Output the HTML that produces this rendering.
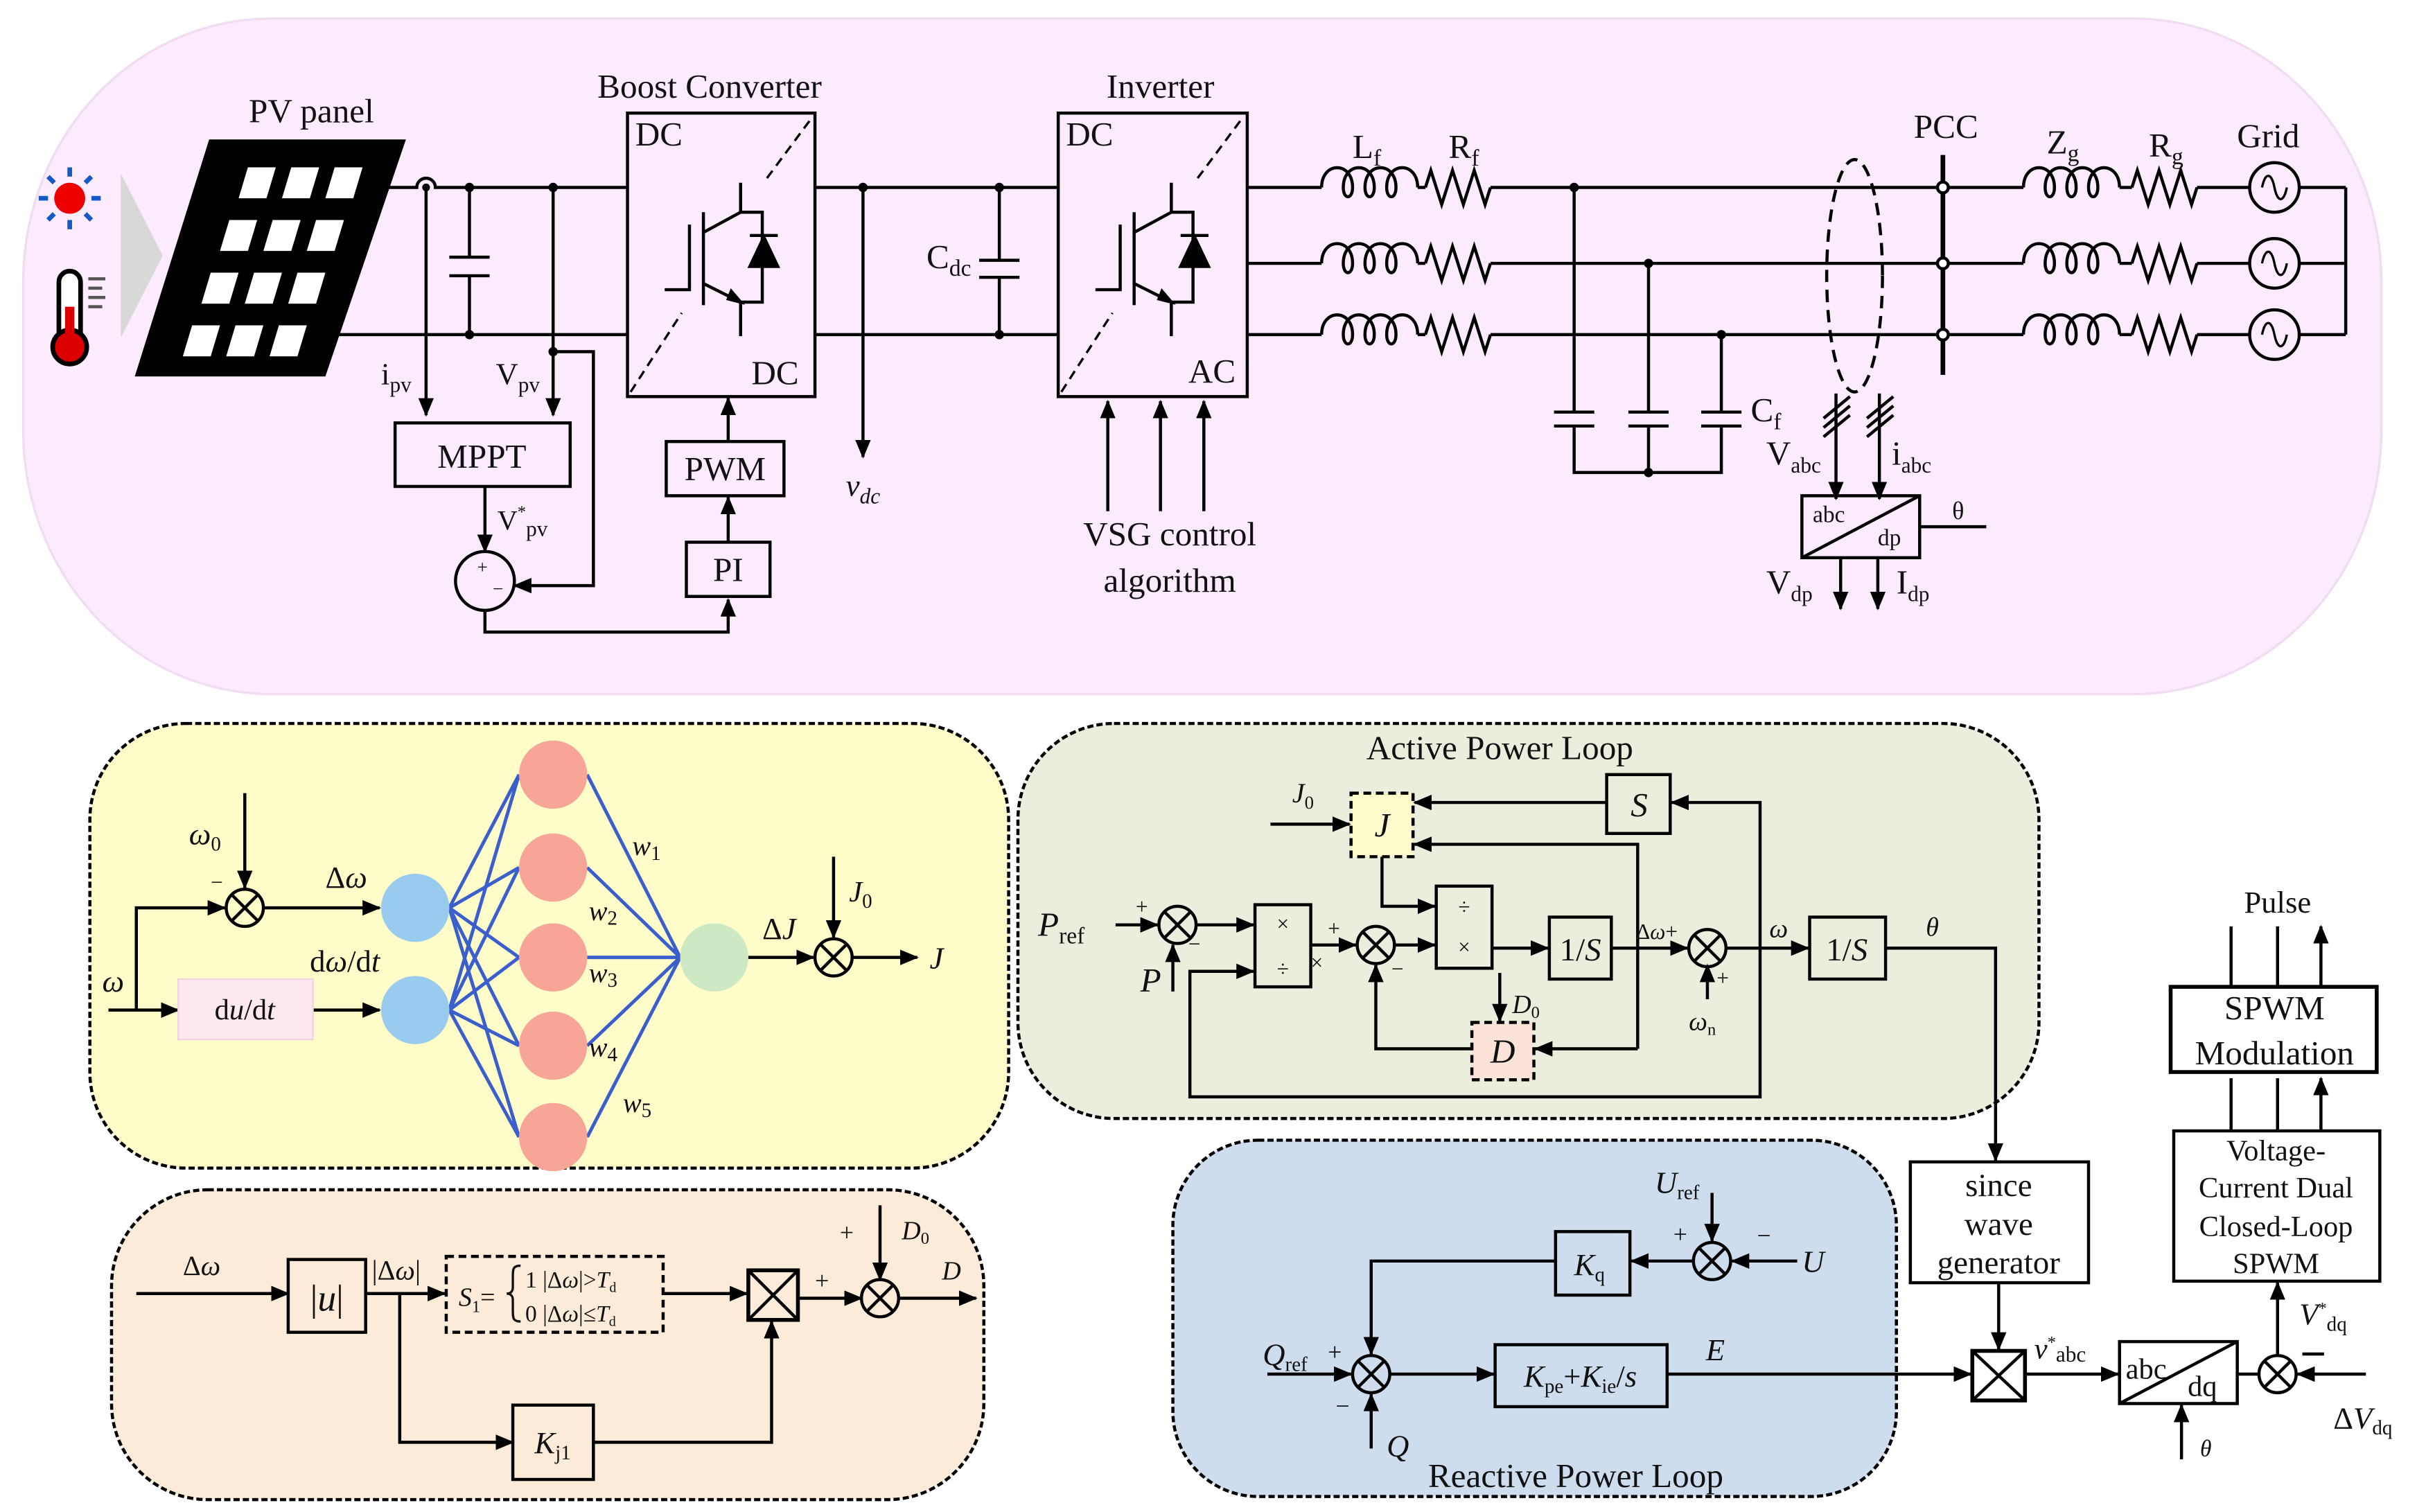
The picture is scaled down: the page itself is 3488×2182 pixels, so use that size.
<!DOCTYPE html>
<html><head><meta charset="utf-8"><style>
html,body{margin:0;padding:0;background:#fff}
svg{display:block}
text{font-family:"Liberation Serif",serif;fill:#111}
</style></head><body>
<svg width="3488" height="2182" viewBox="0 0 1560 976" preserveAspectRatio="none" xmlns="http://www.w3.org/2000/svg">
<defs>
<marker id="a" markerWidth="12" markerHeight="10" refX="11" refY="5" orient="auto" markerUnits="userSpaceOnUse"><path d="M0,0 L12,5 L0,10 Z" fill="#000"/></marker>
<g id="igbt" fill="none" stroke="#000" stroke-width="2">
<path d="M429,187 H445 V145"/><path d="M454,137 V197"/><path d="M454,150 L478,137 V118"/><path d="M454,183 L478,195 V217"/>
<path d="M478,137 H492 V195 H478"/><path d="M484,152 H502"/>
<path d="M484,172 L502,172 L493,153 Z" fill="#000"/><path d="M470,193 L478,195 L472,188 Z" fill="#000"/>
</g>
<path id="ind" d="M0,0 c0,-17 20,-17 20,0 c0,8 -6,8 -6,0 c0,-17 20,-17 20,0 c0,8 -6,8 -6,0 c0,-17 20,-17 20,0 c0,8 -6,8 -6,0 c0,-17 20,-17 20,0" fill="none" stroke="#000" stroke-width="2"/>
<path id="res" d="M0,0 l3.5,-11 l7,22 l7,-22 l7,22 l7,-22 l7,22 l3.5,-11" fill="none" stroke="#000" stroke-width="2"/>
<g id="sum"><circle r="12" fill="none" stroke="#000" stroke-width="2"/><path d="M-8.5,-8.5 L8.5,8.5 M-8.5,8.5 L8.5,-8.5" stroke="#000" stroke-width="2"/></g>
<g id="src"><circle r="16" fill="none" stroke="#000" stroke-width="2"/><path d="M-8,0 c2,-10 6,-10 8,0 c2,10 6,10 8,0" fill="none" stroke="#000" stroke-width="1.5"/></g>
</defs>

<!-- TOP PANEL -->
<rect x="15" y="12" width="1522" height="436" rx="160" ry="170" fill="#fcebfc" stroke="#f1dcf1" stroke-width="1.5"/>
<circle cx="45" cy="128" r="10" fill="#e00"/>
<g stroke="#1558c8" stroke-width="3"><path d="M45,108V114M45,142V148M25,128H31M59,128H65M31,114L35,118M59,114L55,118M31,142L35,138M59,142L55,138"/></g>
<rect x="38" y="175" width="14" height="50" rx="7" fill="#fff" stroke="#000" stroke-width="3"/>
<circle cx="45" cy="224" r="11" fill="#d00" stroke="#000" stroke-width="3"/>
<rect x="42" y="198" width="6" height="26" fill="#d00"/>
<g stroke="#555" stroke-width="2"><path d="M57,180H68M57,186H66M57,192H68M57,198H66"/></g>
<polygon points="78,112 78,218 105,165" fill="#d8d8d8"/>
<polygon points="135,90 262,90 210,243 87,243" fill="#000"/>
<g fill="#fff">
<polygon points="160,108 178,108 172,128 154,128"/><polygon points="188,108 206,108 200,128 182,128"/><polygon points="216,108 234,108 228,128 210,128"/>
<polygon points="148,142 166,142 160,162 142,162"/><polygon points="176,142 194,142 188,162 170,162"/><polygon points="204,142 222,142 216,162 198,162"/>
<polygon points="136,176 154,176 148,196 130,196"/><polygon points="164,176 182,176 176,196 158,196"/><polygon points="192,176 210,176 204,196 186,196"/>
<polygon points="124,210 142,210 136,230 118,230"/><polygon points="152,210 170,210 164,230 146,230"/><polygon points="180,210 198,210 192,230 174,230"/>
</g>
<text x="201" y="79" font-size="22" text-anchor="middle">PV panel</text>
<g stroke="#000" stroke-width="2" fill="none">
<path d="M250,121 H269 a6,6 0 0 1 12,0 H405"/>
<path d="M214,216 H405"/>
<path d="M526,121 H683 M526,216 H683"/>
<path d="M303,121 V166 M303,178 V216 M290,166 H316 M290,178 H316"/>
<path d="M645,121 V168 M645,179 V216 M632,168 H658 M632,179 H658"/>
<path d="M275,121 V268" marker-end="url(#a)"/>
<path d="M357,121 V268" marker-end="url(#a)"/>
<path d="M357,227 H383 V378 H332" marker-end="url(#a)"/>
<path d="M313,314 V356" marker-end="url(#a)"/>
<path d="M313,394 V408 H470 V387" marker-end="url(#a)"/>
<path d="M470,350 V321" marker-end="url(#a)"/>
<path d="M470,285 V257" marker-end="url(#a)"/>
<path d="M557,121 V295" marker-end="url(#a)"/>
<path d="M715,330 V259" marker-end="url(#a)"/>
<path d="M749,330 V259" marker-end="url(#a)"/>
<path d="M777,330 V259" marker-end="url(#a)"/>
</g>
<g fill="#000"><circle cx="303" cy="121" r="3"/><circle cx="357" cy="121" r="3"/><circle cx="303" cy="216" r="3"/><circle cx="357" cy="227" r="3"/><circle cx="557" cy="121" r="3"/><circle cx="645" cy="121" r="3"/><circle cx="645" cy="216" r="3"/><circle cx="275" cy="121" r="2.5"/></g>
<text x="246" y="248" font-size="20">i<tspan font-size="14" dy="5">pv</tspan></text>
<text x="320" y="248" font-size="20">V<tspan font-size="14" dy="5">pv</tspan></text>
<rect x="255" y="273" width="113" height="41" fill="none" stroke="#000" stroke-width="2"/>
<text x="311" y="302" font-size="22" text-anchor="middle">MPPT</text>
<text x="321" y="342" font-size="18">V<tspan font-size="11" dy="-8">*</tspan><tspan font-size="14" dy="12">pv</tspan></text>
<circle cx="313" cy="375" r="19" fill="none" stroke="#000" stroke-width="2"/>
<text x="308" y="370" font-size="12" fill="#666">+</text><text x="318" y="384" font-size="12" fill="#666">−</text>
<rect x="405" y="73" width="121" height="183" fill="none" stroke="#000" stroke-width="2"/>
<path d="M407,253 L440,202 M495,115 L524,76" stroke="#000" stroke-width="1.5" stroke-dasharray="6,4"/>
<use href="#igbt"/>
<text x="410" y="94" font-size="22">DC</text><text x="485" y="248" font-size="22">DC</text>
<text x="458" y="63" font-size="22" text-anchor="middle">Boost Converter</text>
<rect x="430" y="285" width="76" height="35" fill="none" stroke="#000" stroke-width="2"/>
<text x="468" y="310" font-size="22" text-anchor="middle">PWM</text>
<rect x="443" y="350" width="54" height="35" fill="none" stroke="#000" stroke-width="2"/>
<text x="470" y="375" font-size="22" text-anchor="middle">PI</text>
<text x="546" y="320" font-size="20" font-style="italic">v<tspan font-size="14" dy="5">dc</tspan></text>
<text x="598" y="173" font-size="22">C<tspan font-size="15" dy="5">dc</tspan></text>
<rect x="683" y="73" width="122" height="183" fill="none" stroke="#000" stroke-width="2"/>
<path d="M685,253 L718,202 M773,115 L802,76" stroke="#000" stroke-width="1.5" stroke-dasharray="6,4"/>
<use href="#igbt" transform="translate(278,0)"/>
<text x="688" y="94" font-size="22">DC</text><text x="767" y="247" font-size="22">AC</text>
<text x="749" y="63" font-size="22" text-anchor="middle">Inverter</text>
<text x="755" y="352" font-size="22" text-anchor="middle">VSG control</text>
<text x="755" y="382" font-size="22" text-anchor="middle">algorithm</text>
<g stroke="#000" stroke-width="2" fill="none">
<path d="M805,121 H853 M805,170 H853 M805,216 H853"/>
<path d="M915,121 H920 M915,170 H920 M915,216 H920"/>
<path d="M962,121 H1306 M962,170 H1306 M962,216 H1306"/>
<path d="M1368,121 H1376 M1368,170 H1376 M1368,216 H1376"/>
<path d="M1418,121 H1452 M1418,170 H1452 M1418,216 H1452"/>
<path d="M1484,121 H1514 M1484,170 H1514 M1484,216 H1514 M1514,121 V216"/>
<path d="M1016,121 V266 M1064,170 V266 M1111,216 V266"/>
<path d="M1003,266 H1029 M1051,266 H1077 M1098,266 H1124 M1003,275 H1029 M1051,275 H1077 M1098,275 H1124"/>
<path d="M1016,275 V305 H1111 V275 M1064,275 V305"/>
<path d="M1254,100 V242" stroke-width="3"/>
<ellipse cx="1197" cy="178" rx="18" ry="75" stroke-dasharray="8,5"/>
<path d="M1185,254 V322" marker-end="url(#a)"/><path d="M1213,254 V322" marker-end="url(#a)"/>
<path d="M1177,270 L1194,256 M1177,276 L1194,262 M1177,282 L1194,268 M1205,270 L1222,256 M1205,276 L1222,262 M1205,282 L1222,268"/>
<path d="M1239,340 H1282"/>
<path d="M1188,360 V393" marker-end="url(#a)"/><path d="M1212,360 V393" marker-end="url(#a)"/>
</g>
<g><use href="#ind" x="853" y="121"/><use href="#ind" x="853" y="170"/><use href="#ind" x="853" y="216"/>
<use href="#res" x="920" y="121"/><use href="#res" x="920" y="170"/><use href="#res" x="920" y="216"/>
<use href="#ind" x="1306" y="121"/><use href="#ind" x="1306" y="170"/><use href="#ind" x="1306" y="216"/>
<use href="#res" x="1376" y="121"/><use href="#res" x="1376" y="170"/><use href="#res" x="1376" y="216"/>
<use href="#src" x="1468" y="121"/><use href="#src" x="1468" y="170"/><use href="#src" x="1468" y="216"/></g>
<g fill="#000"><circle cx="1016" cy="121" r="3"/><circle cx="1064" cy="170" r="3"/><circle cx="1111" cy="216" r="3"/><circle cx="1064" cy="305" r="3"/></g>
<g fill="#fff" stroke="#000" stroke-width="2"><circle cx="1254" cy="121" r="3.5"/><circle cx="1254" cy="170" r="3.5"/><circle cx="1254" cy="216" r="3.5"/></g>
<text x="873" y="102" font-size="22">L<tspan font-size="15" dy="5">f</tspan></text>
<text x="935" y="102" font-size="22">R<tspan font-size="15" dy="5">f</tspan></text>
<text x="1130" y="272" font-size="22">C<tspan font-size="15" dy="5">f</tspan></text>
<text x="1256" y="89" font-size="22" text-anchor="middle">PCC</text>
<text x="1321" y="99" font-size="22">Z<tspan font-size="15" dy="5">g</tspan></text>
<text x="1387" y="101" font-size="22">R<tspan font-size="15" dy="5">g</tspan></text>
<text x="1464" y="95" font-size="22" text-anchor="middle">Grid</text>
<text x="1140" y="300" font-size="22">V<tspan font-size="14" dy="5">abc</tspan></text>
<text x="1221" y="300" font-size="22">i<tspan font-size="14" dy="5">abc</tspan></text>
<rect x="1163" y="320" width="76" height="40" fill="none" stroke="#000" stroke-width="2"/>
<path d="M1163,360 L1239,320" stroke="#000" stroke-width="2"/>
<text x="1170" y="337" font-size="15">abc</text><text x="1212" y="352" font-size="15">dp</text>
<text x="1260" y="335" font-size="16">θ</text>
<text x="1140" y="383" font-size="22">V<tspan font-size="14" dy="5">dp</tspan></text>
<text x="1224" y="383" font-size="22">I<tspan font-size="14" dy="5">dp</tspan></text>

<!-- YELLOW NN PANEL -->
<rect x="58" y="467" width="593" height="287" rx="62" fill="#fefcc9" stroke="#000" stroke-width="2" stroke-dasharray="4,2"/>
<g stroke="#3a5fcd" stroke-width="2.2">
<path d="M290,586 L335,500 M290,586 L335,560 M290,586 L335,618 M290,586 L335,675 M290,586 L335,734"/>
<path d="M290,652 L335,500 M290,652 L335,560 M290,652 L335,618 M290,652 L335,675 M290,652 L335,734"/>
<path d="M379,500 L439,618 M379,560 L439,618 M379,618 L439,618 M379,675 L439,618 M379,734 L439,618"/>
</g>
<g fill="#99cbee"><circle cx="268" cy="586" r="22"/><circle cx="268" cy="652" r="22"/></g>
<g fill="#f7a596"><circle cx="357" cy="500" r="22"/><circle cx="357" cy="560" r="22"/><circle cx="357" cy="618" r="22"/><circle cx="357" cy="675" r="22"/><circle cx="357" cy="734" r="22"/></g>
<circle cx="461" cy="618" r="22" fill="#cde9c3"/>
<g stroke="#000" stroke-width="2" fill="none">
<path d="M158,512 V573" marker-end="url(#a)"/>
<path d="M70,652 H115" marker-end="url(#a)"/>
<path d="M88,652 V586 H145" marker-end="url(#a)"/>
<path d="M170,586 H245" marker-end="url(#a)"/>
<path d="M202,652 H245" marker-end="url(#a)"/>
<path d="M483,618 H525" marker-end="url(#a)"/>
<path d="M538,553 V605" marker-end="url(#a)"/>
<path d="M550,618 H592" marker-end="url(#a)"/>
</g>
<use href="#sum" x="158" y="586"/><use href="#sum" x="538" y="618"/>
<rect x="115" y="632" width="87" height="39" fill="#fde8f0" stroke="#f3d3df"/>
<text x="158" y="658" font-size="19" text-anchor="middle">d<tspan font-style="italic">u</tspan>/d<tspan font-style="italic">t</tspan></text>
<text x="122" y="545" font-size="20" font-style="italic">ω<tspan font-size="13" dy="4" font-style="normal">0</tspan></text>
<text x="136" y="574" font-size="14">−</text>
<text x="210" y="573" font-size="20">Δ<tspan font-style="italic">ω</tspan></text>
<text x="200" y="627" font-size="20">d<tspan font-style="italic">ω</tspan>/d<tspan font-style="italic">t</tspan></text>
<text x="66" y="640" font-size="20" font-style="italic">ω</text>
<text x="408" y="552" font-size="18" font-style="italic">w<tspan font-size="13" dy="3" font-style="normal">1</tspan></text>
<text x="380" y="594" font-size="18" font-style="italic">w<tspan font-size="13" dy="3" font-style="normal">2</tspan></text>
<text x="380" y="634" font-size="18" font-style="italic">w<tspan font-size="13" dy="3" font-style="normal">3</tspan></text>
<text x="380" y="682" font-size="18" font-style="italic">w<tspan font-size="13" dy="3" font-style="normal">4</tspan></text>
<text x="402" y="718" font-size="18" font-style="italic">w<tspan font-size="13" dy="3" font-style="normal">5</tspan></text>
<text x="492" y="606" font-size="20">Δ<tspan font-style="italic">J</tspan></text>
<text x="548" y="582" font-size="19" font-style="italic">J<tspan font-size="13" dy="4" font-style="normal">0</tspan></text>
<text x="600" y="625" font-size="20" font-style="italic">J</text>

<!-- ORANGE PANEL -->
<rect x="72" y="768" width="563" height="200" rx="62" fill="#fdebd9" stroke="#000" stroke-width="2" stroke-dasharray="4,2"/>
<g stroke="#000" stroke-width="2" fill="none">
<path d="M88,835 H186" marker-end="url(#a)"/>
<path d="M236,835 H287" marker-end="url(#a)"/>
<path d="M258,835 V931 H331" marker-end="url(#a)"/>
<path d="M383,931 H498 V853" marker-end="url(#a)"/>
<path d="M428,835 H482" marker-end="url(#a)"/>
<path d="M515,838 H556" marker-end="url(#a)"/>
<path d="M568,778 V826" marker-end="url(#a)"/>
<path d="M580,838 H630" marker-end="url(#a)"/>
</g>
<rect x="186" y="813" width="50" height="47" fill="none" stroke="#000" stroke-width="2"/>
<text x="211" y="846" font-size="24" text-anchor="middle">|<tspan font-style="italic">u</tspan>|</text>
<text x="240" y="826" font-size="18">|Δ<tspan font-style="italic">ω</tspan>|</text>
<text x="118" y="823" font-size="18">Δ<tspan font-style="italic">ω</tspan></text>
<rect x="288" y="811" width="140" height="49" fill="none" stroke="#000" stroke-width="2" stroke-dasharray="5,3"/>
<text x="296" y="843" font-size="17" font-style="italic">S<tspan font-size="11" dy="4" font-style="normal">1</tspan><tspan dy="-4" font-style="normal">=</tspan></text>
<path d="M336,817 c-5,0 -5,2 -5,8 v6 c0,3 -2,4 -4,4 c2,0 4,1 4,4 v6 c0,6 0,8 5,8" fill="none" stroke="#111" stroke-width="1.5"/>
<text x="339" y="831" font-size="15">1  |Δ<tspan font-style="italic">ω</tspan>|&gt;<tspan font-style="italic">T</tspan><tspan font-size="9" dy="3">d</tspan></text>
<text x="339" y="853" font-size="15">0  |Δ<tspan font-style="italic">ω</tspan>|≤<tspan font-style="italic">T</tspan><tspan font-size="9" dy="3">d</tspan></text>
<rect x="483" y="820" width="32" height="32" fill="none" stroke="#000" stroke-width="2.5"/>
<path d="M483,820 L515,852 M515,820 L483,852" stroke="#000" stroke-width="2"/>
<use href="#sum" x="568" y="838"/>
<text x="526" y="832" font-size="16">+</text><text x="542" y="801" font-size="16">+</text>
<text x="582" y="800" font-size="17" font-style="italic">D<tspan font-size="11" dy="3" font-style="normal">0</tspan></text>
<text x="608" y="826" font-size="17" font-style="italic">D</text>
<rect x="331" y="907" width="52" height="48" fill="none" stroke="#000" stroke-width="2"/>
<text x="345" y="938" font-size="20" font-style="italic">K<tspan font-size="13" dy="4" font-style="normal">j1</tspan></text>

<!-- ACTIVE POWER LOOP -->
<rect x="657" y="467" width="659" height="255" rx="62" fill="#eceedd" stroke="#000" stroke-width="2" stroke-dasharray="4,2"/>
<text x="968" y="490" font-size="22" text-anchor="middle">Active Power Loop</text>
<g stroke="#000" stroke-width="2" fill="none">
<path d="M820,532 H871" marker-end="url(#a)"/>
<path d="M1037,518 H913" marker-end="url(#a)"/>
<path d="M1136,612 V518 H1079" marker-end="url(#a)"/>
<path d="M1057,677 V545 H913" marker-end="url(#a)"/>
<path d="M892,553 V585 H926" marker-end="url(#a)"/>
<path d="M720,597 H747" marker-end="url(#a)"/>
<path d="M757,640 V610" marker-end="url(#a)"/>
<path d="M772,597 H809" marker-end="url(#a)"/>
<path d="M1136,612 V708 H768 V627 H809" marker-end="url(#a)"/>
<path d="M846,610 H875" marker-end="url(#a)"/>
<path d="M900,610 H926" marker-end="url(#a)"/>
<path d="M963,612 H999" marker-end="url(#a)"/>
<path d="M1040,612 H1089" marker-end="url(#a)"/>
<path d="M1102,645 V623" marker-end="url(#a)"/>
<path d="M1114,612 H1167" marker-end="url(#a)"/>
<path d="M968,628 V659" marker-end="url(#a)"/>
<path d="M1057,677 H991" marker-end="url(#a)"/>
<path d="M950,677 H888 V623" marker-end="url(#a)"/>
<path d="M1217,612 H1288 V749" marker-end="url(#a)"/>
</g>
<rect x="1037" y="500" width="41" height="38" fill="none" stroke="#000" stroke-width="2"/>
<text x="1058" y="527" font-size="22" font-style="italic" text-anchor="middle">S</text>
<rect x="872" y="512" width="40" height="41" fill="#fdfbcc" stroke="#000" stroke-width="2" stroke-dasharray="5,3"/>
<text x="892" y="540" font-size="22" font-style="italic" text-anchor="middle">J</text>
<text x="834" y="518" font-size="18" font-style="italic">J<tspan font-size="12" dy="4" font-style="normal">0</tspan></text>
<text x="670" y="604" font-size="22" font-style="italic">P<tspan font-size="15" dy="5" font-style="normal">ref</tspan></text>
<text x="733" y="590" font-size="14">+</text><text x="767" y="614" font-size="14">−</text>
<text x="736" y="640" font-size="22" font-style="italic">P</text>
<use href="#sum" x="760" y="597"/>
<rect x="810" y="584" width="36" height="53" fill="none" stroke="#000" stroke-width="2"/>
<text x="828" y="601" font-size="14" text-anchor="middle">×</text><text x="828" y="630" font-size="14" text-anchor="middle">÷</text>
<text x="857" y="604" font-size="14">+</text><text x="846" y="626" font-size="14">×</text>
<use href="#sum" x="888" y="610"/><text x="898" y="630" font-size="14">−</text>
<rect x="927" y="572" width="36" height="53" fill="none" stroke="#000" stroke-width="2"/>
<text x="945" y="590" font-size="14" text-anchor="middle">÷</text><text x="945" y="616" font-size="14" text-anchor="middle">×</text>
<rect x="1000" y="592" width="40" height="40" fill="none" stroke="#000" stroke-width="2"/>
<text x="1020" y="620" font-size="21" text-anchor="middle">1/<tspan font-style="italic">S</tspan></text>
<text x="1056" y="606" font-size="14">Δ<tspan font-style="italic">ω</tspan>+</text>
<use href="#sum" x="1102" y="612"/><text x="1108" y="636" font-size="14">+</text>
<text x="1090" y="665" font-size="17" font-style="italic">ω<tspan font-size="11" dy="3" font-style="normal">n</tspan></text>
<text x="1142" y="605" font-size="17" font-style="italic">ω</text>
<rect x="1168" y="592" width="49" height="40" fill="none" stroke="#000" stroke-width="2"/>
<text x="1192" y="620" font-size="21" text-anchor="middle">1/<tspan font-style="italic">S</tspan></text>
<text x="1243" y="604" font-size="17" font-style="italic">θ</text>
<rect x="950" y="660" width="40" height="37" fill="#fbe3d8" stroke="#000" stroke-width="2" stroke-dasharray="5,3"/>
<text x="970" y="686" font-size="22" font-style="italic" text-anchor="middle">D</text>
<text x="976" y="654" font-size="17" font-style="italic">D<tspan font-size="11" dy="3" font-style="normal">0</tspan></text>

<!-- REACTIVE POWER LOOP -->
<rect x="757" y="736" width="467" height="230" rx="55" fill="#cddded" stroke="#000" stroke-width="2" stroke-dasharray="4,2"/>
<text x="1017" y="960" font-size="22" text-anchor="middle">Reactive Power Loop</text>
<g stroke="#000" stroke-width="2" fill="none">
<path d="M1105,770 V801" marker-end="url(#a)"/>
<path d="M1160,814 H1118" marker-end="url(#a)"/>
<path d="M1093,814 H1053" marker-end="url(#a)"/>
<path d="M1004,814 H885 V874" marker-end="url(#a)"/>
<path d="M818,887 H872" marker-end="url(#a)"/>
<path d="M885,935 V900" marker-end="url(#a)"/>
<path d="M897,887 H964" marker-end="url(#a)"/>
<path d="M1076,887 H1272" marker-end="url(#a)"/>
<path d="M1290,828 V871" marker-end="url(#a)"/>
<path d="M1307,887 H1367" marker-end="url(#a)"/>
<path d="M1408,942 V907" marker-end="url(#a)"/>
<path d="M1527,887 H1483" marker-end="url(#a)"/>
<path d="M1458,887 H1444"/>
<path d="M1470,875 V828" marker-end="url(#a)"/>
<path d="M1440,730 V696 M1470,730 V696 M1498,730 V696" marker-end="url(#a)"/>
<path d="M1440,637 V598 M1470,637 V598 M1498,637 V598" marker-end="url(#a)"/>
</g>
<use href="#sum" x="1105" y="814"/>
<text x="1068" y="770" font-size="20" font-style="italic">U<tspan font-size="13" dy="4" font-style="normal">ref</tspan></text>
<text x="1080" y="802" font-size="16">+</text><text x="1134" y="803" font-size="16">−</text>
<text x="1163" y="821" font-size="20" font-style="italic">U</text>
<rect x="1004" y="795" width="48" height="41" fill="none" stroke="#000" stroke-width="2"/>
<text x="1016" y="823" font-size="20" font-style="italic">K<tspan font-size="13" dy="4" font-style="normal">q</tspan></text>
<use href="#sum" x="885" y="887"/>
<text x="815" y="881" font-size="20" font-style="italic">Q<tspan font-size="13" dy="4" font-style="normal">ref</tspan></text>
<text x="857" y="878" font-size="16">+</text><text x="862" y="913" font-size="16">−</text>
<text x="895" y="940" font-size="20" font-style="italic">Q</text>
<rect x="965" y="868" width="111" height="40" fill="none" stroke="#000" stroke-width="2"/>
<text x="1020" y="895" font-size="20" text-anchor="middle"><tspan font-style="italic">K</tspan><tspan font-size="13" dy="4">pe</tspan><tspan dy="-4">+</tspan><tspan font-style="italic">K</tspan><tspan font-size="13" dy="4">ie</tspan><tspan dy="-4">/</tspan><tspan font-style="italic">s</tspan></text>
<text x="1101" y="878" font-size="20" font-style="italic">E</text>
<rect x="1233" y="750" width="115" height="78" fill="#fff" stroke="#000" stroke-width="2"/>
<text x="1290" y="772" font-size="21" text-anchor="middle">since</text>
<text x="1290" y="797" font-size="21" text-anchor="middle">wave</text>
<text x="1290" y="822" font-size="21" text-anchor="middle">generator</text>
<rect x="1273" y="872" width="34" height="32" fill="#fff" stroke="#000" stroke-width="2.5"/>
<path d="M1273,872 L1307,904 M1307,872 L1273,904" stroke="#000" stroke-width="2"/>
<text x="1313" y="877" font-size="19" font-style="italic">v<tspan font-size="11" dy="-7" font-style="normal">*</tspan><tspan font-size="14" dy="9" font-style="normal">abc</tspan></text>
<rect x="1368" y="866" width="76" height="40" fill="#fff" stroke="#000" stroke-width="2"/>
<path d="M1368,906 L1444,866" stroke="#000" stroke-width="2"/>
<text x="1372" y="890" font-size="19">abc</text><text x="1412" y="901" font-size="19">dq</text>
<text x="1420" y="940" font-size="15" font-style="italic">θ</text>
<use href="#sum" x="1470" y="887"/>
<path d="M1486,874 H1500" stroke="#000" stroke-width="2"/>
<text x="1506" y="922" font-size="20">Δ<tspan font-style="italic">V</tspan><tspan font-size="13" dy="4">dq</tspan></text>
<text x="1484" y="855" font-size="20" font-style="italic">V<tspan font-size="11" dy="-7" font-style="normal">*</tspan><tspan font-size="13" dy="11" font-style="normal">dq</tspan></text>
<rect x="1403" y="730" width="133" height="97" fill="#fff" stroke="#000" stroke-width="2"/>
<text x="1469" y="749" font-size="19" text-anchor="middle">Voltage-</text>
<text x="1469" y="773" font-size="19" text-anchor="middle">Current Dual</text>
<text x="1469" y="798" font-size="19" text-anchor="middle">Closed-Loop</text>
<text x="1469" y="822" font-size="19" text-anchor="middle">SPWM</text>
<rect x="1401" y="637" width="133" height="55" fill="#fff" stroke="#000" stroke-width="2.5"/>
<text x="1468" y="658" font-size="22" text-anchor="middle">SPWM</text>
<text x="1468" y="687" font-size="22" text-anchor="middle">Modulation</text>
<text x="1470" y="589" font-size="20" text-anchor="middle">Pulse</text>
</svg>
</body></html>
